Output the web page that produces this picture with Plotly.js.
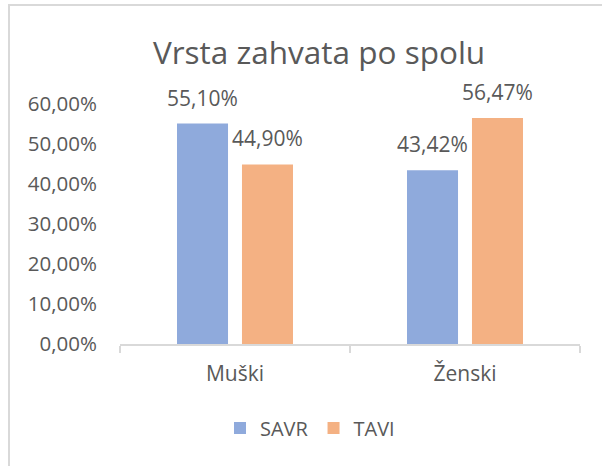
<!DOCTYPE html>
<html>
<head>
<meta charset="utf-8">
<script src="https://cdn.plot.ly/plotly-3.0.1.min.js"></script>
<style>
  html, body { margin: 0; padding: 0; background: #fff; }
  #wrap { position: relative; width: 602px; height: 466px; overflow: hidden; }
  #chart { position: absolute; left: 0; top: 0; width: 602px; height: 466px; }
  #frame { position: absolute; left: 8px; top: 4px; width: 700px; height: 600px;
           border-left: 2px solid #d9d9d9; border-top: 2px solid #d9d9d9; pointer-events: none; }
</style>
</head>
<body>
<div id="wrap">
  <div id="chart"></div>
  <div id="frame"></div>
</div>
<script>
const categories = ["Muški", "Ženski"];
const seriesNames = ["SAVR", "TAVI"];
const savr = [0.5510, 0.4342];
const tavi = [0.4490, 0.5647];
const tickVals = [0, 0.1, 0.2, 0.3, 0.4, 0.5, 0.6];
const tickText = ["0,00%", "10,00%", "20,00%", "30,00%", "40,00%", "50,00%", "60,00%"];

const colors = ["#8FAADC", "#F4B183"];
const textColor = "#595959";
const fontFamily = "'Open Sans', 'Noto Sans', sans-serif";

const W = 602, H = 466;
const margin = { l: 120, r: 22, t: 104, b: 122 };
const bargap = 0.435;
const plotW = W - margin.l - margin.r;
const slotPx = plotW / categories.length * (1 - bargap) / seriesNames.length;

function fmt(v) {
  return (v * 100).toFixed(2).replace(".", ",") + "%";
}

const seriesVals = [savr, tavi];
const traces = seriesVals.map((vals, s) => ({
  type: "bar",
  name: seriesNames[s],
  x: categories,
  y: vals,
  marker: { color: colors[s] },
  hoverinfo: "skip"
}));

const annotations = [];
seriesVals.forEach((vals, s) => {
  vals.forEach((v, i) => {
    annotations.push({
      x: categories[i], y: v, xref: "x", yref: "y",
      text: fmt(v), showarrow: false,
      yanchor: "bottom", xanchor: "center",
      xshift: (s - (seriesNames.length - 1) / 2) * slotPx,
      yshift: 10,
      font: { family: fontFamily, size: 21, color: textColor }
    });
  });
});

const layout = {
  width: W, height: H,
  margin: margin,
  paper_bgcolor: "#ffffff",
  plot_bgcolor: "#ffffff",
  barmode: "group",
  bargap: bargap,
  bargroupgap: 0.215,
  title: {
    text: "Vrsta zahvata po spolu",
    font: { family: fontFamily, size: 31.5, color: textColor },
    xref: "container", x: 0.53, xanchor: "center",
    yref: "container", y: 1 - 53 / H, yanchor: "middle"
  },
  xaxis: {
    type: "category",
    showline: true, linecolor: "#d9d9d9", linewidth: 2,
    ticks: "outside", tickson: "boundaries", ticklen: 7, tickcolor: "#d9d9d9", tickwidth: 2,
    showgrid: false, zeroline: false,
    tickfont: { family: fontFamily, size: 21, color: textColor },
    ticklabelstandoff: 10,
    fixedrange: true
  },
  yaxis: {
    range: [0, 0.6],
    tickvals: tickVals, ticktext: tickText,
    showline: false, showgrid: false, zeroline: false, ticks: "",
    tickfont: { family: fontFamily, size: 20.5, color: textColor },
    ticklabelstandoff: 22,
    fixedrange: true
  },
  showlegend: true,
  legend: {
    orientation: "h",
    x: (310 - margin.l) / plotW, xanchor: "center",
    y: -(428 - (H - margin.b)) / (H - margin.t - margin.b), yanchor: "middle",
    font: { family: fontFamily, size: 20, color: textColor },
    itemwidth: 30,
    traceorder: "normal"
  },
  annotations: annotations
};

Plotly.newPlot("chart", traces, layout, { displayModeBar: false, staticPlot: true });
</script>
</body>
</html>
